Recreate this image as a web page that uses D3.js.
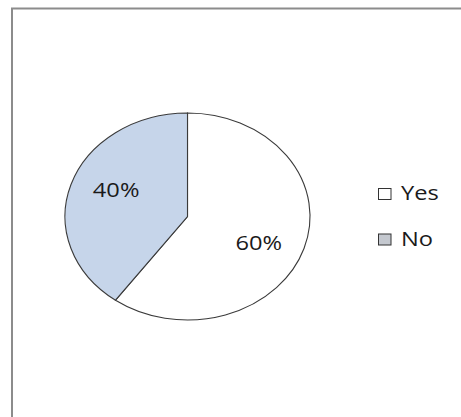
<!DOCTYPE html>
<html>
<head>
<meta charset="utf-8">
<script src="https://cdn.jsdelivr.net/npm/d3@7"></script>
<style>
  html, body { margin: 0; padding: 0; background: #ffffff; }
  svg { display: block; }
  text { font-family: "Open Sans", "DejaVu Sans", sans-serif; fill: #1a1a1a; }
</style>
</head>
<body>
<script>
const categories = ["Yes", "No"];
const values = [60, 40];
const labels = ["60%", "40%"];
const colors = ["#ffffff", "#c6d5ea"];

const W = 461, H = 417;
const svg = d3.select("body").append("svg").attr("width", W).attr("height", H);

// chart frame
svg.append("rect")
  .attr("x", 12).attr("y", 8.5)
  .attr("width", 470).attr("height", 430)
  .attr("fill", "#ffffff")
  .attr("stroke", "#8c8c8c").attr("stroke-width", 2);

const cx = 187.5, cy = 216.5, ry = 103.5, rx = 122.5;
const sx = rx / ry;

const pie = d3.pie().sort(null).value(d => d)(values);
const arc = d3.arc().innerRadius(0).outerRadius(ry);
const labelR = 66, labelShift = 6 * Math.PI / 180;

const g = svg.append("g").attr("transform", `translate(${cx},${cy}) scale(${sx},1)`);
g.selectAll("path").data(pie).join("path")
  .attr("d", arc)
  .attr("fill", (d, i) => colors[i])
  .attr("stroke", "#3a3a3a")
  .attr("stroke-width", 1.1)
  .attr("vector-effect", "non-scaling-stroke");

svg.selectAll("text.lbl").data(pie).join("text")
  .attr("class", "lbl")
  .attr("transform", d => {
    const a = (d.startAngle + d.endAngle) / 2 + labelShift;
    const x = Math.sin(a) * labelR, y = -Math.cos(a) * labelR;
    return `translate(${cx + x * sx},${cy + y}) scale(${sx},1)`;
  })
  .attr("text-anchor", "middle")
  .attr("dy", "0.35em")
  .attr("font-size", 20)
  .text((d, i) => labels[i]);

// legend
const leg = svg.append("g");
categories.forEach((c, i) => {
  const y = 188 + i * 45.5;
  leg.append("rect")
    .attr("x", 378.5).attr("y", y + 0.5)
    .attr("width", 12.5).attr("height", 11)
    .attr("fill", i === 1 ? "#c4c8cf" : colors[i])
    .attr("stroke", "#333").attr("stroke-width", 1);
  leg.append("text")
    .attr("transform", `translate(401,${y + 12}) scale(${sx},1)`)
    .attr("font-size", 20)
    .text(c);
});
</script>
</body>
</html>
